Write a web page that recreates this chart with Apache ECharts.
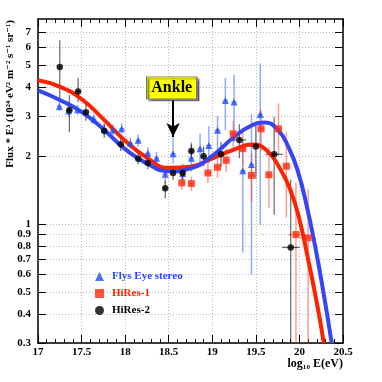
<!DOCTYPE html>
<html>
<head>
<meta charset="utf-8">
<script src="https://cdn.jsdelivr.net/npm/echarts@6/dist/echarts.min.js"></script>
<style>
  html, body { margin: 0; padding: 0; background: #fff; }
  #main { width: 382px; height: 382px; }
</style>
</head>
<body>
<div id="main"></div>
<script>
// Fly's Eye stereo (blue triangles): energy, flux, upper, lower
var fesE    = [17.245, 17.35, 17.455, 17.64, 17.76, 17.86, 17.96, 18.06, 18.15, 18.26, 18.36, 18.46, 18.55, 18.66, 18.76, 18.86, 18.96, 19.06, 19.15, 19.25, 19.35, 19.45, 19.55];
var fesFlux = [3.30, 3.15, 3.19, 2.90, 2.63, 2.60, 2.63, 2.27, 2.34, 2.05, 1.95, 1.66, 2.04, 1.67, 1.95, 2.15, 2.22, 2.59, 3.50, 3.45, 1.72, 1.83, 3.04];
var fesHi   = [3.45, 3.32, 3.35, 3.05, 2.78, 2.75, 2.78, 2.40, 2.48, 2.18, 2.08, 1.80, 2.40, 1.85, 2.30, 2.50, 2.70, 3.00, 4.40, 4.55, 2.35, 3.05, 5.10];
var fesLo   = [3.15, 2.98, 3.03, 2.75, 2.50, 2.47, 2.50, 2.15, 2.20, 1.92, 1.82, 1.52, 1.85, 1.50, 1.70, 1.85, 1.85, 2.10, 2.60, 2.30, 0.75, 0.60, 0.99];

// HiRes-1 (red squares)
var hr1E    = [18.65, 18.76, 18.95, 19.06, 19.16, 19.24, 19.35, 19.45, 19.56, 19.65, 19.76, 19.85, 19.96, 20.10];
var hr1Flux = [1.52, 1.51, 1.68, 1.78, 1.91, 2.50, 2.15, 1.64, 2.63, 1.65, 2.63, 1.80, 0.90, 0.87];
var hr1Hi   = [1.62, 1.62, 1.85, 1.98, 2.15, 2.85, 2.55, 2.05, 3.20, 2.18, 3.40, 2.55, 1.53, 1.42];
var hr1Lo   = [1.42, 1.40, 1.52, 1.60, 1.70, 2.15, 1.80, 1.25, 2.10, 1.18, 2.00, 1.07, 0.30, 0.30];

// HiRes-2 (black circles)
var hr2E    = [17.25, 17.36, 17.46, 17.55, 17.76, 17.95, 18.15, 18.26, 18.46, 18.55, 18.66, 18.76, 18.90, 19.10, 19.31, 19.50, 19.71, 19.90];
var hr2Flux = [4.92, 3.17, 3.84, 3.11, 2.57, 2.25, 1.94, 1.86, 1.44, 1.68, 1.68, 2.10, 1.99, 2.03, 2.35, 2.20, 2.03, 0.79];
var hr2Hi   = [6.45, 3.70, 4.40, 3.40, 2.75, 2.40, 2.05, 1.98, 1.55, 1.80, 1.80, 2.25, 2.20, 2.30, 2.75, 2.78, 2.96, 1.57];
var hr2Lo   = [3.50, 2.54, 3.45, 2.85, 2.40, 2.10, 1.84, 1.75, 1.30, 1.57, 1.57, 1.95, 1.80, 1.78, 1.95, 1.59, 1.10, 0.30];

// fitted curves
var fitRedE = [17.0, 17.25, 17.5, 17.75, 18.0, 18.25, 18.5, 18.75, 19.0, 19.25, 19.45, 19.62, 19.78, 19.9, 20.0, 20.1, 20.2, 20.28];
var fitRed  = [4.30, 4.03, 3.55, 2.90, 2.33, 1.96, 1.77, 1.79, 1.95, 2.13, 2.24, 2.12, 1.75, 1.40, 1.05, 0.70, 0.45, 0.30];
var fitBlueE = [17.0, 17.25, 17.5, 17.75, 18.0, 18.25, 18.5, 18.75, 19.0, 19.25, 19.45, 19.6, 19.76, 19.88, 19.98, 20.08, 20.18, 20.28, 20.37];
var fitBlue  = [3.88, 3.52, 3.12, 2.62, 2.14, 1.85, 1.71, 1.76, 2.00, 2.42, 2.72, 2.80, 2.58, 2.16, 1.72, 1.22, 0.80, 0.49, 0.30];

var yTicks = [0.3, 0.4, 0.5, 0.6, 0.7, 0.8, 0.9, 1, 2, 3, 4, 5, 6, 7];
var yMin = 0.3, yMax = 8;
var ankleE = 18.55, ankleBox = 3.98, ankleFrom = 3.5, ankleTo = 2.42;

var serif = '"Liberation Serif", "DejaVu Serif", serif';
var lg = function (v) { return Math.log10(v); };

function points(E, F) {
  return E.map(function (e, i) { return [e, lg(F[i])]; });
}

function errorBars(name, E, F, Hi, Lo, dx, color, width) {
  return {
    name: name + ' err',
    type: 'custom',
    silent: true,
    clip: true,
    z: 2,
    data: E.map(function (e, i) { return [e, lg(F[i]), lg(Hi[i]), lg(Lo[i]), dx[i]]; }),
    renderItem: function (params, api) {
      var x = api.value(0), c = api.value(1), d = api.value(4);
      var top = api.coord([x, api.value(2)]);
      var bot = api.coord([x, api.value(3)]);
      var l = api.coord([x - d, c]);
      var r = api.coord([x + d, c]);
      var st = { stroke: color, lineWidth: width };
      return {
        type: 'group',
        children: [
          { type: 'line', shape: { x1: top[0], y1: top[1], x2: bot[0], y2: bot[1] }, style: st },
          { type: 'line', shape: { x1: l[0], y1: l[1], x2: r[0], y2: r[1] }, style: st }
        ]
      };
    }
  };
}

var fesDx = fesE.map(function () { return 0.03; });
var hr1Dx = hr1E.map(function (e) { return e > 19.9 ? 0.09 : 0.04; });
var hr2Dx = hr2E.map(function (e) { return e > 19.6 ? 0.1 : (e > 19.2 ? 0.08 : 0.03); });

var chart = echarts.init(document.getElementById('main'));

var labelStyle = { fontFamily: serif, fontWeight: 'bold', fontSize: 11, color: '#000' };

var option = {
  backgroundColor: '#fff',
  animation: false,
  grid: { left: 38, right: 39, top: 19, bottom: 39 },
  legend: {
    orient: 'vertical',
    left: 90,
    top: 266,
    itemWidth: 9,
    itemHeight: 9,
    itemGap: 6,
    selectedMode: false,
    data: [
      { name: 'Flys Eye stereo', textStyle: { color: '#2b45ff' } },
      { name: 'HiRes-1', textStyle: { color: '#ff2200' } },
      { name: 'HiRes-2', textStyle: { color: '#000' } }
    ],
    textStyle: { fontFamily: serif, fontWeight: 'bold', fontSize: 11, padding: [0, 0, 0, 3] }
  },
  xAxis: [{
    type: 'value', position: 'bottom',
    min: 17, max: 20.5, interval: 0.5,
    axisLine: { show: true, onZero: false, lineStyle: { color: '#000', width: 1.5 } },
    axisTick: { show: true, inside: true, length: 8, lineStyle: { color: '#000' } },
    minorTick: { show: true, splitNumber: 5, length: 4, lineStyle: { color: '#000' } },
    axisLabel: Object.assign({ margin: 4, formatter: function (v) { return String(+v.toFixed(1)); } }, labelStyle),
    splitLine: { show: true, lineStyle: { color: '#bbb', type: [1, 2], width: 1 } },
    name: 'log\u2081\u2080 E(eV)',
    nameLocation: 'end',
    nameGap: 0,
    nameTextStyle: { fontFamily: serif, fontWeight: 'bold', fontSize: 12, color: '#000', align: 'right', verticalAlign: 'top', padding: [15, 0, 0, 0] }
  }, {
    type: 'value', position: 'top',
    min: 17, max: 20.5, interval: 0.5,
    axisLine: { show: true, onZero: false, lineStyle: { color: '#000', width: 1.5 } },
    axisTick: { show: true, inside: true, length: 8, lineStyle: { color: '#000' } },
    minorTick: { show: true, splitNumber: 5, length: 4, lineStyle: { color: '#000' } },
    axisLabel: { show: false },
    splitLine: { show: false }
  }],
  yAxis: [{
    type: 'value', position: 'left',
    min: lg(yMin), max: lg(yMax),
    axisLine: { show: true, onZero: false, lineStyle: { color: '#000', width: 1.5 } },
    axisTick: { show: true, inside: true, length: 8, customValues: yTicks.map(lg), lineStyle: { color: '#000' } },
    axisLabel: Object.assign({
      margin: 7,
      customValues: yTicks.map(lg),
      formatter: function (v) { return String(+Math.pow(10, v).toFixed(1)); }
    }, labelStyle),
    splitLine: { show: true, lineStyle: { color: '#bbb', type: [1, 2], width: 1 } }
  }, {
    type: 'value', position: 'right',
    min: lg(yMin), max: lg(yMax),
    axisLine: { show: true, onZero: false, lineStyle: { color: '#000', width: 1.5 } },
    axisTick: { show: true, inside: true, length: 8, customValues: yTicks.map(lg), lineStyle: { color: '#000' } },
    axisLabel: { show: false, customValues: yTicks.map(lg) },
    splitLine: { show: false }
  }],
  graphic: [{
    type: 'text',
    x: 10, y: 20,
    rotation: Math.PI / 2,
    style: {
      text: 'Flux * E\u00b3 (10\u00b2\u2074 eV\u00b2 m\u207b\u00b2 s\u207b\u00b9 sr\u207b\u00b9)',
      fontFamily: serif, fontWeight: 'bold', fontSize: 11, fill: '#000',
      align: 'right', verticalAlign: 'middle'
    }
  }],
  series: [
    errorBars('Flys Eye stereo', fesE, fesFlux, fesHi, fesLo, fesDx, 'rgba(60,100,255,0.55)', 1.5),
    errorBars('HiRes-1', hr1E, hr1Flux, hr1Hi, hr1Lo, hr1Dx, 'rgba(255,60,40,0.5)', 1.5),
    errorBars('HiRes-2', hr2E, hr2Flux, hr2Hi, hr2Lo, hr2Dx, 'rgba(0,0,0,0.6)', 1.2),
    {
      name: 'HiRes-1 fit', type: 'line', smooth: 0.5, symbol: 'none', z: 4,
      data: points(fitRedE, fitRed),
      lineStyle: { color: '#ff2200', width: 4 }
    },
    {
      name: 'Flys Eye fit', type: 'line', smooth: 0.5, symbol: 'none', z: 4,
      data: points(fitBlueE, fitBlue),
      lineStyle: { color: '#3845f2', width: 4 },
      markLine: {
        silent: true,
        symbol: ['none', 'arrow'],
        symbolSize: [10, 14],
        label: { show: false },
        lineStyle: { color: '#000', width: 2, type: 'solid' },
        data: [[{ coord: [ankleE, lg(ankleFrom)] }, { coord: [ankleE, lg(ankleTo)] }]]
      },
      markPoint: {
        silent: true,
        data: [{
          coord: [ankleE - 0.015, lg(ankleBox)],
          symbol: 'rect',
          symbolSize: [50, 22],
          itemStyle: { color: '#ffff00', borderColor: '#777', borderWidth: 1, shadowColor: 'rgba(0,0,0,0.45)', shadowOffsetX: 2, shadowOffsetY: 2, shadowBlur: 1 },
          label: { show: true, position: 'inside', formatter: 'Ankle', fontFamily: serif, fontWeight: 'bold', fontSize: 16, color: '#000' }
        }]
      }
    },
    {
      name: 'Flys Eye stereo', type: 'scatter', symbol: 'triangle', symbolSize: 7, z: 5,
      data: points(fesE, fesFlux),
      itemStyle: { color: '#1f4bff' }
    },
    {
      name: 'HiRes-1', type: 'scatter', symbol: 'rect', symbolSize: 7, z: 5,
      data: points(hr1E, hr1Flux),
      itemStyle: { color: '#ff2a10' }
    },
    {
      name: 'HiRes-2', type: 'scatter', symbol: 'circle', symbolSize: 6.5, z: 6,
      data: points(hr2E, hr2Flux),
      itemStyle: { color: '#000' }
    }
  ]
};

chart.setOption(option);
</script>
</body>
</html>
